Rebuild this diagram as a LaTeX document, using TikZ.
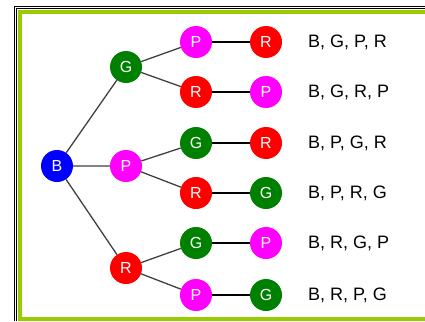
\documentclass[tikz,border=0pt]{standalone}
\usepackage{fontspec}
\setmainfont{Liberation Sans}
\definecolor{cB}{RGB}{0,0,255}
\definecolor{cG}{RGB}{0,128,0}
\definecolor{cP}{RGB}{255,0,255}
\definecolor{cR}{RGB}{255,0,0}
\definecolor{frameg}{RGB}{153,204,0}
\definecolor{treel}{RGB}{64,64,64}
\begin{document}
\begin{tikzpicture}[x=1pt,y=-1pt,
  ball/.style={circle,minimum size=32pt,inner sep=0pt,text=white,font=\fontsize{16}{16}\selectfont},
  bB/.style={ball,fill=cB},
  bG/.style={ball,fill=cG},
  bP/.style={ball,fill=cP},
  bR/.style={ball,fill=cR},
  branch/.style={draw=treel,line width=1.3pt},
  hline/.style={draw=black,line width=1.4pt},
  outcome/.style={anchor=west,inner sep=0pt,font=\fontsize{18}{18}\selectfont}]
\useasboundingbox (0,0) rectangle (425,321);
% frame
\draw[black,line width=1pt] (14.5,321) -- (14.5,6.5) -- (425,6.5);
\draw[black,line width=1pt] (16.8,321) -- (16.8,8.7) -- (425,8.7);
\draw[frameg,line width=4pt] (425,318.5) -- (20,318.5) -- (20,12.5) -- (425,12.5);
% nodes
\node[bB] (b) at (57,166) {B};
\node[bG] (g1) at (126,67) {G};
\node[bP] (p1) at (126,166) {P};
\node[bR] (r1) at (126,268) {R};
\node[bP] (a1) at (196,42) {P};
\node[bR] (a2) at (196,92) {R};
\node[bG] (a3) at (196,143) {G};
\node[bR] (a4) at (196,193) {R};
\node[bG] (a5) at (196,243) {G};
\node[bP] (a6) at (196,295) {P};
\node[bR] (c1) at (266,42) {R};
\node[bP] (c2) at (266,92) {P};
\node[bR] (c3) at (266,143) {R};
\node[bG] (c4) at (266,193) {G};
\node[bP] (c5) at (266,243) {P};
\node[bG] (c6) at (266,295) {G};
% connectors
\path[branch] (b) -- (g1) (b) -- (p1) (b) -- (r1)
  (g1) -- (a1) (g1) -- (a2) (p1) -- (a3) (p1) -- (a4) (r1) -- (a5) (r1) -- (a6);
\path[hline] (a1) -- (c1) (a2) -- (c2) (a3) -- (c3) (a4) -- (c4) (a5) -- (c5) (a6) -- (c6);
% outcomes
\node[outcome] (t1) at (308,42) {B, G, P, R};
\node[outcome] (t2) at (308,92) {B, G, R, P};
\node[outcome] (t3) at (308,143) {B, P, G, R};
\node[outcome] (t4) at (308,193) {B, P, R, G};
\node[outcome] (t5) at (308,243) {B, R, G, P};
\node[outcome] (t6) at (308,295) {B, R, P, G};
\end{tikzpicture}
\end{document}
